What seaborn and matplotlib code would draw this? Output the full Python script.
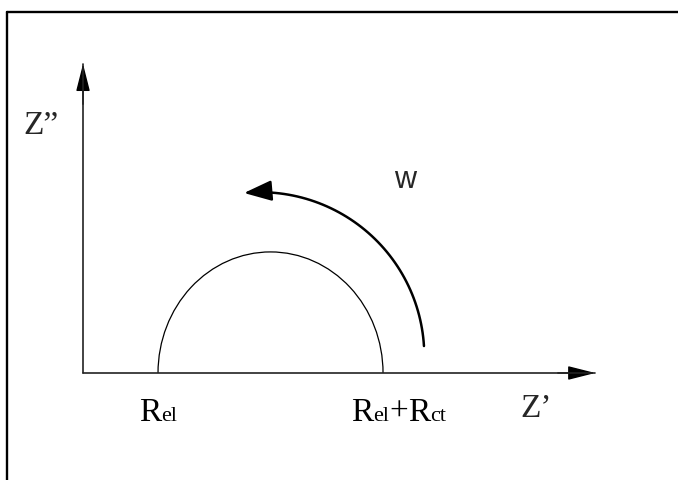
import matplotlib
matplotlib.use("Agg")
import matplotlib.pyplot as plt
import seaborn as sns
import numpy as np
import pandas as pd
from matplotlib.patches import Arc, FancyArrowPatch
from matplotlib.path import Path
from matplotlib.lines import Line2D
from matplotlib.offsetbox import TextArea, HPacker, AnnotationBbox

# Equivalent-circuit parameters (arbitrary units)
R_el = 1.0
R_ct = 3.0

# Lengths of the real (Z') and imaginary (Z'') axes
z_real_max = 6.83
z_imag_max = 3.83

# Direction-of-frequency arrow: an arc given by centre, radii and sweep angles
sweep_center = (2.36, 0.21)
sweep_radii = (2.19, 2.03)
sweep_angles = (3.5, 95.6)

# Axis labels
real_label = "Z\u2019"
imag_label = "Z\u201d"
freq_label = "w"

sns.set_theme(style="white")
plt.rcParams["font.family"] = ["Liberation Serif", "DejaVu Serif"]

fig = plt.figure(figsize=(6.78, 4.81), dpi=100)
ax = fig.add_axes([0, 0, 1, 1])
ax.set_xlim(-1.107, 7.933)
ax.set_ylim(-1.326, 4.634)
ax.axis("off")

# Outer frame: top and left edges
fig.add_artist(Line2D([0.011, 1.0], [0.973, 0.973], transform=fig.transFigure,
                      color="black", lw=1.7))
fig.add_artist(Line2D([0.011, 0.011], [0.0, 0.973], transform=fig.transFigure,
                      color="black", lw=1.7))

# Impedance axes
axes_df = pd.DataFrame({
    "x": [0.0, z_real_max, 0.0, 0.0],
    "y": [0.0, 0.0, 0.0, z_imag_max],
    "axis": ["real", "real", "imag", "imag"],
})
sns.lineplot(data=axes_df, x="x", y="y", units="axis", estimator=None,
             sort=False, color="#222222", lw=1.2, ax=ax, legend=False)

head = "-|>,head_length=17,head_width=4.3"
for tip, tail in [((z_real_max, 0.0), (z_real_max - 0.5, 0.0)),
                  ((0.0, z_imag_max), (0.0, z_imag_max - 0.5))]:
    ax.add_patch(FancyArrowPatch(tail, tip, arrowstyle=head, mutation_scale=1,
                                 shrinkA=0, shrinkB=0, color="black", lw=1.0))

# Charge-transfer semicircle between R_el and R_el + R_ct
ax.add_patch(Arc((R_el + R_ct / 2, 0.0), R_ct, R_ct, theta1=0, theta2=180,
                 color="black", lw=0.9))

# Curved arrow showing increasing frequency
t = np.radians(np.linspace(*sweep_angles, 60))
verts = np.column_stack([sweep_center[0] + sweep_radii[0] * np.cos(t),
                         sweep_center[1] + sweep_radii[1] * np.sin(t)])
codes = [Path.MOVETO] + [Path.LINETO] * (len(verts) - 1)
ax.add_patch(FancyArrowPatch(path=Path(verts, codes),
                             arrowstyle="-|>,head_length=17,head_width=6.3",
                             mutation_scale=1, color="black", lw=1.8))


def stacked_label(parts, xy):
    boxes = [TextArea(s, textprops=dict(fontsize=size, color="black",
                                        family="Liberation Serif"))
             for s, size in parts]
    pack = HPacker(children=boxes, align="baseline", pad=0, sep=0)
    ax.add_artist(AnnotationBbox(pack, xy, xycoords="data", frameon=False,
                                 box_alignment=(0.5, 0.5), pad=0))


stacked_label([("R", 24), ("el", 16)], (R_el, -0.48))
stacked_label([("R", 24), ("el", 16), ("+", 24), ("R", 24), ("ct", 16)],
              (R_el + R_ct + 0.21, -0.48))

ax.text(6.04, -0.43, real_label, fontsize=24, ha="center", va="center")
ax.text(-0.56, 3.07, imag_label, fontsize=24, ha="center", va="center")
ax.text(4.29, 2.40, freq_label, fontsize=22, ha="center", va="center",
        family=["Liberation Sans", "DejaVu Sans"])

fig.savefig("out.png", dpi=100, facecolor="white")
